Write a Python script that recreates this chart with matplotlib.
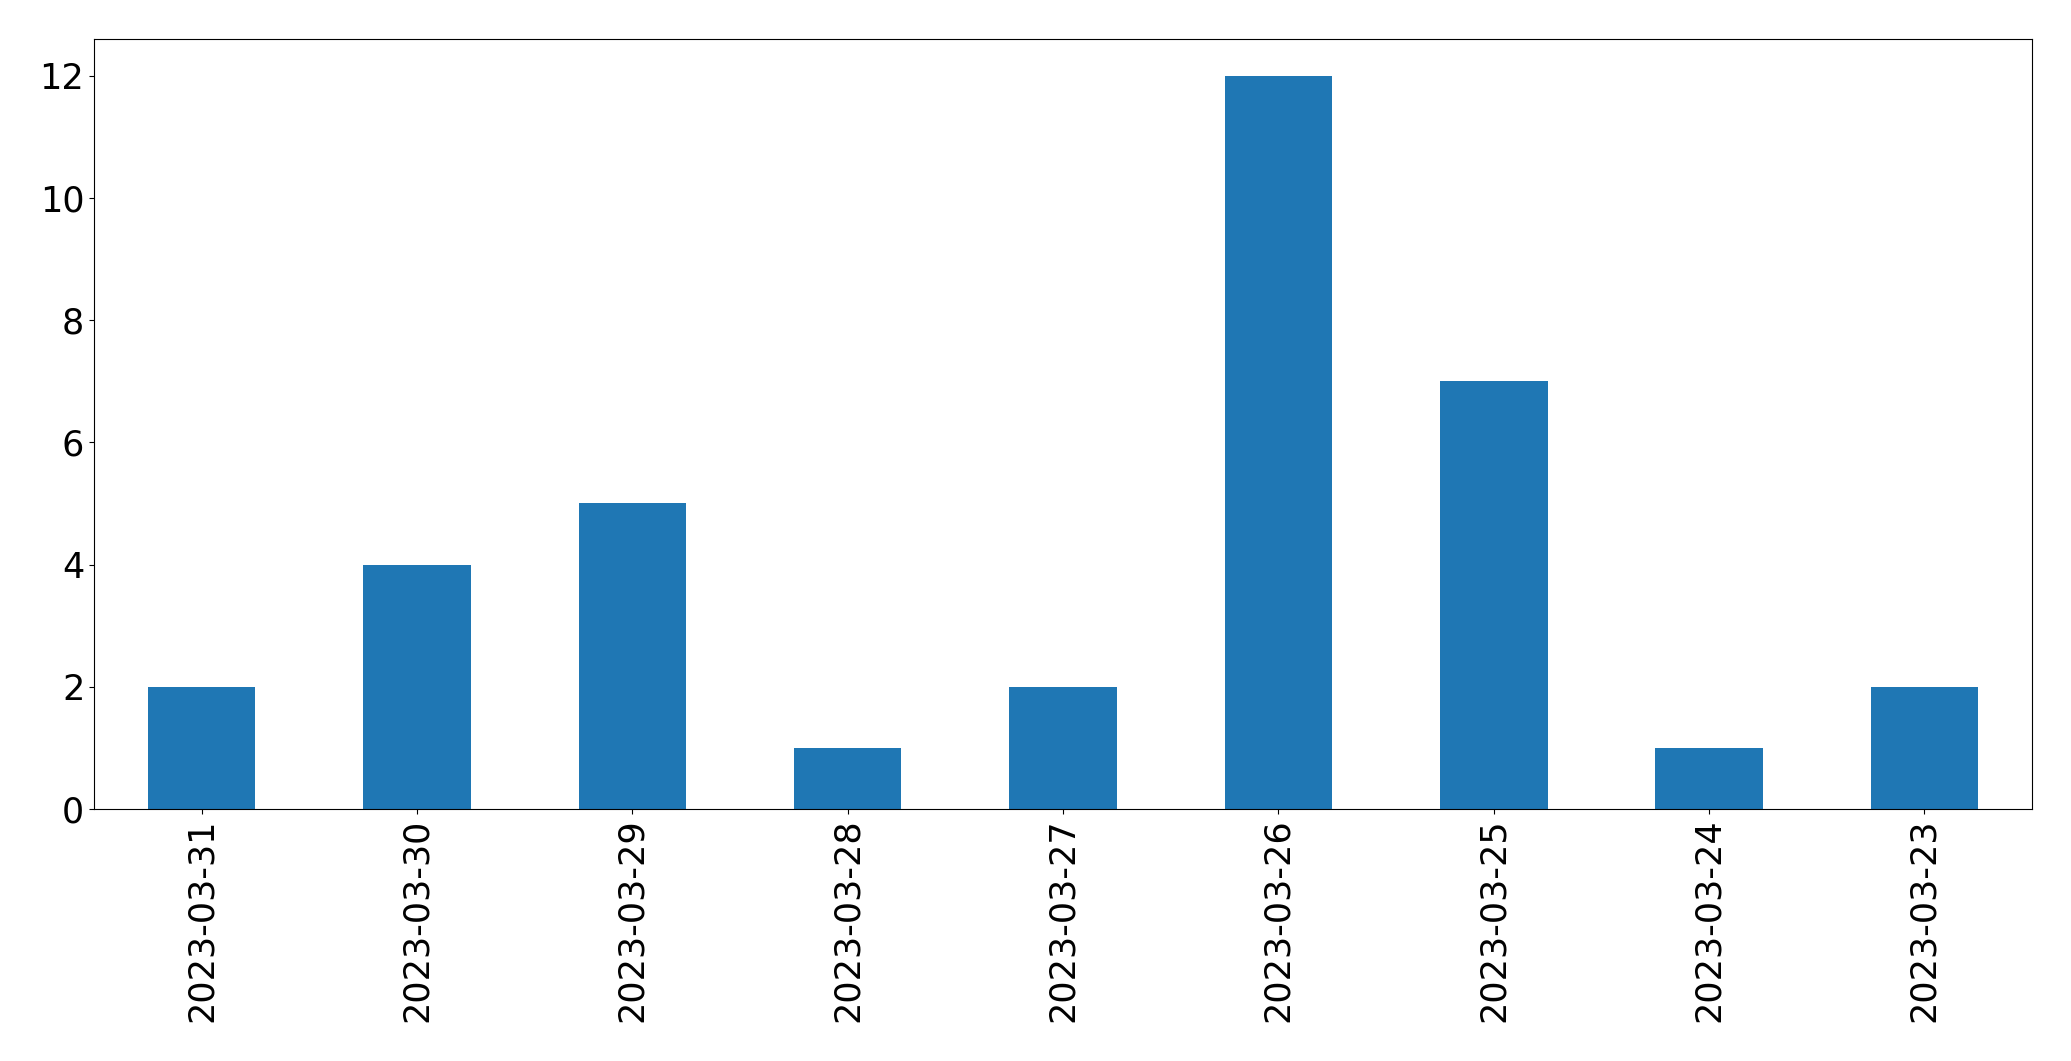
import matplotlib
matplotlib.use("Agg")
import matplotlib.pyplot as plt

dates = ["2023-03-31", "2023-03-30", "2023-03-29", "2023-03-28", "2023-03-27",
         "2023-03-26", "2023-03-25", "2023-03-24", "2023-03-23"]
counts = [2, 4, 5, 1, 2, 12, 7, 1, 2]

fig = plt.figure(figsize=(20.71, 10.61), dpi=100)
ax = fig.add_axes([94/2071, 1-809/1061, (2032-94)/2071, (809-39)/1061])
x = list(range(len(dates)))
ax.bar(x, counts, width=0.5, color="#1f77b4")
ax.set_xlim(-0.5, len(dates) - 0.5)
ax.set_ylim(0, 12.6)
ax.set_xticks(x)
ax.set_xticklabels(dates, rotation=90, fontsize=25.2)
ax.set_yticks([0, 2, 4, 6, 8, 10, 12])
ax.tick_params(axis="y", labelsize=25.2)
fig.savefig("out.png", dpi=100)
